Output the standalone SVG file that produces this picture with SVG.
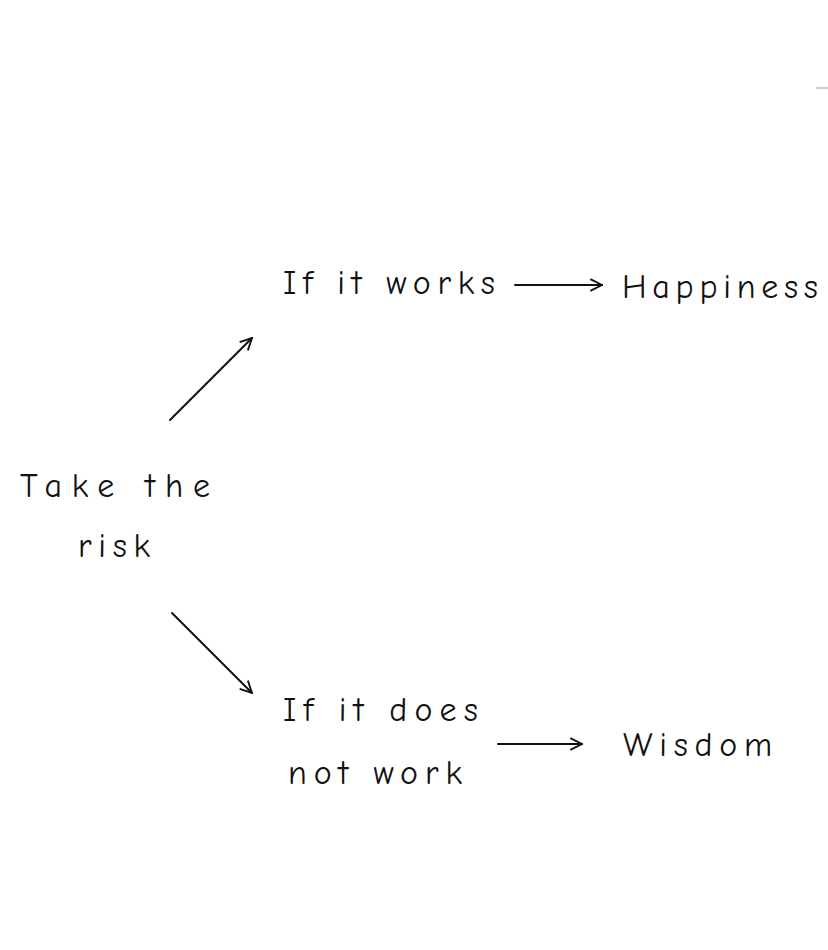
<svg xmlns="http://www.w3.org/2000/svg" width="828" height="950" viewBox="0 0 828 950">
<style>
text{font-family:"Comic Neue","DejaVu Sans",sans-serif;font-size:34px;fill:#111;font-weight:400}
.c line,.c path{stroke:#111;stroke-width:2;fill:none;stroke-linecap:round;stroke-linejoin:round}
</style>
<defs><marker id="a" viewBox="0 0 12 12" refX="11" refY="6" markerWidth="14" markerHeight="14" markerUnits="userSpaceOnUse" orient="auto"><path d="M1 1 L11 6 L1 11" stroke="#111" stroke-width="1.6" fill="none"/></marker></defs>
<rect width="828" height="950" fill="#fff"/>
<line x1="816" y1="88" x2="828" y2="88" stroke="#999" stroke-width="1"/>
<g id="take"><text x="20" y="497" textLength="190" lengthAdjust="spacing">Take the</text><text x="78" y="557" textLength="72" lengthAdjust="spacing">risk</text></g>
<g id="works"><text x="283" y="294" textLength="212" lengthAdjust="spacing">If it works</text></g>
<g id="happiness"><text x="622" y="298" textLength="196" lengthAdjust="spacing">Happiness</text></g>
<g id="notwork"><text x="283" y="721" textLength="195" lengthAdjust="spacing">If it does</text><text x="288" y="784" textLength="174" lengthAdjust="spacing">not work</text></g>
<g id="wisdom"><text x="623" y="756" textLength="149" lengthAdjust="spacing">Wisdom</text></g>
<g class="c" id="connectors">
<line x1="170" y1="420" x2="252" y2="338" marker-end="url(#a)"/>
<line x1="172" y1="613" x2="252" y2="693" marker-end="url(#a)"/>
<line x1="515" y1="285" x2="602" y2="285" marker-end="url(#a)"/>
<line x1="498" y1="744" x2="582" y2="744" marker-end="url(#a)"/>
</g>
</svg>
